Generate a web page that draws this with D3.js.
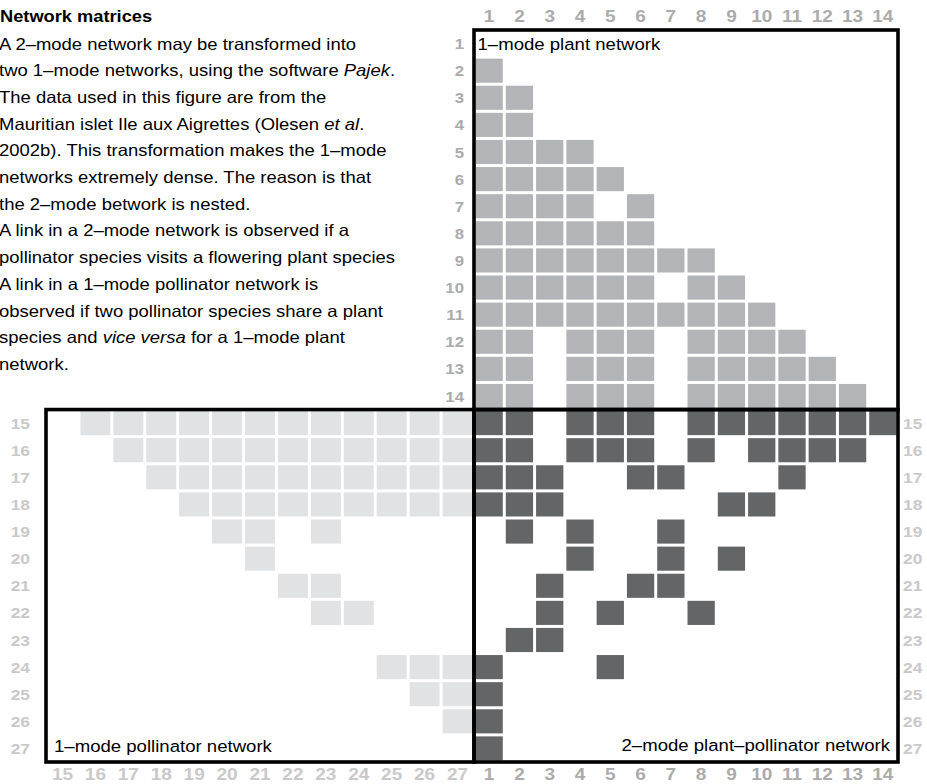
<!DOCTYPE html>
<html>
<head>
<meta charset="utf-8">
<script src="https://cdn.jsdelivr.net/npm/d3@7"></script>
<style>
  html, body { margin: 0; padding: 0; background: #fff; }
  svg { display: block; }
  text { font-family: "Liberation Sans", Arial, Helvetica, sans-serif; }
</style>
</head>
<body>
<svg id="chart" width="927" height="784"></svg>
<script>
// ---------------- DATA ----------------
const plants = [1,2,3,4,5,6,7,8,9,10,11,12,13,14];
const pollinators = [15,16,17,18,19,20,21,22,23,24,25,26,27];

// 2-mode network: plants visited by each pollinator (row = pollinator)
const visitRows = [15,16,17,18,19,20,21,22,23,24,25,26,27];
const visitPlants = [
  [1,2,4,5,6,8,9,10,11,12,13,14],
  [1,2,4,5,6,8,10,11,12,13],
  [1,2,3,6,7,11],
  [1,2,3,9,10],
  [2,4,7],
  [4,7,9],
  [3,6,7],
  [3,5,8],
  [2,3],
  [1,5],
  [1],
  [1],
  [1]
];

// 1-mode plant network (row plant -> linked plants)
const plantRows = [2,3,4,5,6,7,8,9,10,11,12,13,14];
const plantLinks = [
  [1],
  [1,2],
  [1,2],
  [1,2,3,4],
  [1,2,3,4,5],
  [1,2,3,4,6],
  [1,2,3,4,5,6],
  [1,2,3,4,5,6,7,8],
  [1,2,3,4,5,6,8,9],
  [1,2,3,4,5,6,7,8,9,10],
  [1,2,4,5,6,8,9,10,11],
  [1,2,4,5,6,8,9,10,11,12],
  [1,2,4,5,6,8,9,10,11,12,13]
];

// 1-mode pollinator network (row pollinator -> linked pollinators)
const pollRows = [15,16,17,18,19,20,21,22,24,25,26];
const pollLinks = [
  [16,17,18,19,20,21,22,23,24,25,26,27],
  [17,18,19,20,21,22,23,24,25,26,27],
  [18,19,20,21,22,23,24,25,26,27],
  [19,20,21,22,23,24,25,26,27],
  [20,21,23],
  [21],
  [22,23],
  [23,24],
  [25,26,27],
  [26,27],
  [27]
];

const titleText = "Network matrices";
const bodyLines = [
  [["A 2–mode network may be transformed into", false]],
  [["two 1–mode networks, using the software ", false], ["Pajek", true], [".", false]],
  [["The data used in this figure are from the", false]],
  [["Mauritian islet Ile aux Aigrettes (Olesen ", false], ["et al", true], [".", false]],
  [["2002b). This transformation makes the 1–mode", false]],
  [["networks extremely dense. The reason is that", false]],
  [["the 2–mode betwork is nested.", false]],
  [["A link in a 2–mode network is observed if a", false]],
  [["pollinator species visits a flowering plant species", false]],
  [["A link in a 1–mode pollinator network is", false]],
  [["observed if two pollinator species share a plant", false]],
  [["species and ", false], ["vice versa", true], [" for a 1–mode plant", false]],
  [["network.", false]]
];
const panelLabels = ["1–mode plant network", "1–mode pollinator network", "2–mode plant–pollinator network"];

// ---------------- LAYOUT / STYLE ----------------
const SX = 1.12; // horizontal stretch of the original typesetting
const colPlant = "#b3b4b7", colPoll = "#e1e2e4", colTwo = "#646567";
const gap = 3;

const svg = d3.select("#chart");
const allRows = plants.concat(pollinators);

const y = d3.scaleBand().domain(allRows).range([30, 762]);
const xPlant = d3.scaleBand().domain(plants).range([474, 898]);
const xPoll = d3.scaleBand().domain(pollinators).range([46, 474]);

function stext(parent, x, yy, str, o) {
  const t = parent.append("text")
    .attr("transform", `translate(${x},${yy}) scale(${SX},1)`)
    .attr("text-anchor", o.anchor || "start")
    .attr("font-size", o.size)
    .attr("font-weight", o.weight || "normal")
    .attr("fill", o.fill || "#000");
  if (str !== null) t.text(str);
  return t;
}

// ---------------- CELLS ----------------
function flatten(rows, links) {
  const out = [];
  rows.forEach((r, i) => links[i].forEach(c => out.push({ r, c })));
  return out;
}

const cells = svg.append("g");
cells.selectAll("rect.plant").data(flatten(plantRows, plantLinks)).join("rect")
  .attr("class", "plant")
  .attr("x", d => xPlant(d.c) + gap / 2)
  .attr("y", d => y(d.r) + gap / 2)
  .attr("width", xPlant.bandwidth() - gap)
  .attr("height", y.bandwidth() - gap)
  .attr("fill", colPlant);

cells.selectAll("rect.poll").data(flatten(pollRows, pollLinks)).join("rect")
  .attr("class", "poll")
  .attr("x", d => xPoll(d.c) + gap / 2)
  .attr("y", d => y(d.r) + gap / 2)
  .attr("width", xPoll.bandwidth() - gap)
  .attr("height", y.bandwidth() - gap)
  .attr("fill", colPoll);

cells.selectAll("rect.two").data(flatten(visitRows, visitPlants)).join("rect")
  .attr("class", "two")
  .attr("x", d => xPlant(d.c) + gap / 2)
  .attr("y", d => y(d.r) + gap / 2)
  .attr("width", xPlant.bandwidth() - gap)
  .attr("height", y.bandwidth() - gap)
  .attr("fill", colTwo);

// ---------------- FRAMES ----------------
const yTop = y.range()[0], yMid = y(pollinators[0]), yBot = y.range()[1];
const xL = xPoll.range()[0], xM = xPlant.range()[0], xR = xPlant.range()[1];
const frames = svg.append("g").attr("fill", "none").attr("stroke", "#000").attr("stroke-width", 3.6);
frames.append("rect").attr("x", xM).attr("y", yTop).attr("width", xR - xM).attr("height", yMid - yTop);
frames.append("rect").attr("x", xL).attr("y", yMid).attr("width", xM - xL).attr("height", yBot - yMid);
frames.append("rect").attr("x", xM).attr("y", yMid).attr("width", xR - xM).attr("height", yBot - yMid);

// ---------------- AXIS LABELS ----------------
const lab = svg.append("g");
const plantLabCol = "#ababab", pollLabCol = "#c9c9c9";
plants.forEach(p => {
  stext(lab, xPlant(p) + xPlant.bandwidth() / 2, 21.5, String(p), { anchor: "middle", size: 17, weight: "bold", fill: plantLabCol });
  stext(lab, xPlant(p) + xPlant.bandwidth() / 2, 780, String(p), { anchor: "middle", size: 17, weight: "bold", fill: plantLabCol });
  stext(lab, 464, y(p) + y.bandwidth() / 2 + 5.5, String(p), { anchor: "end", size: 15, weight: "bold", fill: plantLabCol });
});
pollinators.forEach(p => {
  stext(lab, xPoll(p) + xPoll.bandwidth() / 2, 780, String(p), { anchor: "middle", size: 17, weight: "bold", fill: pollLabCol });
  stext(lab, 30, y(p) + y.bandwidth() / 2 + 5.5, String(p), { anchor: "end", size: 15.5, weight: "bold", fill: pollLabCol });
  stext(lab, 903, y(p) + y.bandwidth() / 2 + 5.5, String(p), { anchor: "start", size: 15.5, weight: "bold", fill: pollLabCol });
});

// ---------------- PANEL LABELS ----------------
stext(svg, xM + 3.5, 50, panelLabels[0], { size: 16.6 });
stext(svg, xL + 8, 752, panelLabels[1], { size: 16.6 });
stext(svg, xR - 8, 751, panelLabels[2], { anchor: "end", size: 16.6 });

// ---------------- TEXT BLOCK ----------------
stext(svg, 0, 21.7, titleText, { size: 16.3, weight: "bold" });
bodyLines.forEach((segs, i) => {
  const t = stext(svg, -1, 49.5 + i * 26.7, null, { size: 16.5 });
  segs.forEach(([s, it]) => {
    t.append("tspan").attr("font-style", it ? "italic" : "normal").text(s);
  });
});
</script>
</body>
</html>
